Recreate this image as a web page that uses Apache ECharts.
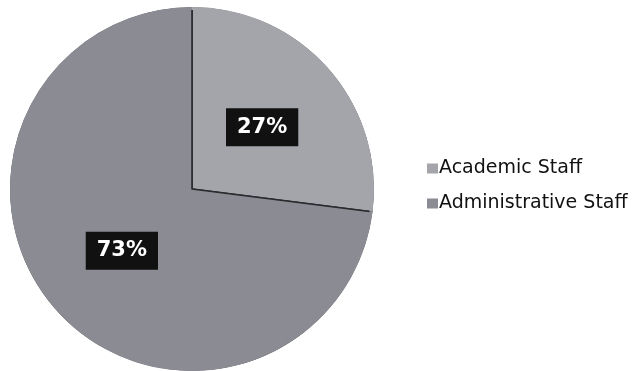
<!DOCTYPE html>
<html>
<head>
<meta charset="utf-8">
<script src="https://cdn.jsdelivr.net/npm/echarts@6/dist/echarts.min.js"></script>
<style>
  html, body { margin: 0; padding: 0; background: #fff; }
  #chart { width: 638px; height: 371px; }
</style>
</head>
<body>
<div id="chart"></div>
<script>
// Staff composition
const categories = ['Academic Staff', 'Administrative Staff'];
const shares = [27, 73];
const sliceColors = ['#a4a4ab', '#8b8b93'];

const pieData = categories.map((name, i) => ({
  name: name,
  value: shares[i],
  itemStyle: { color: sliceColors[i] }
}));

const center = [192, 189];
const chart = echarts.init(document.getElementById('chart'), null, { renderer: 'canvas' });

chart.setOption({
  animation: false,
  legend: {
    orient: 'vertical',
    left: 422,
    top: 154,
    itemWidth: 11,
    itemHeight: 10,
    itemGap: 16,
    icon: 'rect',
    itemStyle: { borderWidth: 0 },
    textStyle: { fontFamily: 'DejaVu Sans', fontSize: 19, color: '#111', padding: [0, 0, 0, -4] },
    data: categories
  },
  series: [
    {
      // slices with dark dividing lines
      type: 'pie',
      center: center,
      radius: [0, 181],
      startAngle: 90,
      clockwise: true,
      data: pieData,
      itemStyle: { borderColor: '#2a2a2e', borderWidth: 1.6 },
      label: {
        position: 'inside',
        formatter: '{c}%',
        color: '#fff',
        fontFamily: 'DejaVu Sans',
        fontWeight: 'bold',
        fontSize: 21,
        backgroundColor: '#111',
        padding: [8, 11, 9, 11]
      },
      labelLine: { show: false },
      emphasis: { disabled: true }
    },
    {
      // rim ring hiding the outer border
      type: 'pie',
      center: center,
      radius: [179, 182],
      startAngle: 90,
      clockwise: true,
      data: pieData,
      legendHoverLink: false,
      itemStyle: { borderWidth: 0 },
      label: { show: false },
      labelLine: { show: false },
      emphasis: { disabled: true },
      silent: true
    }
  ]
});
</script>
</body>
</html>
